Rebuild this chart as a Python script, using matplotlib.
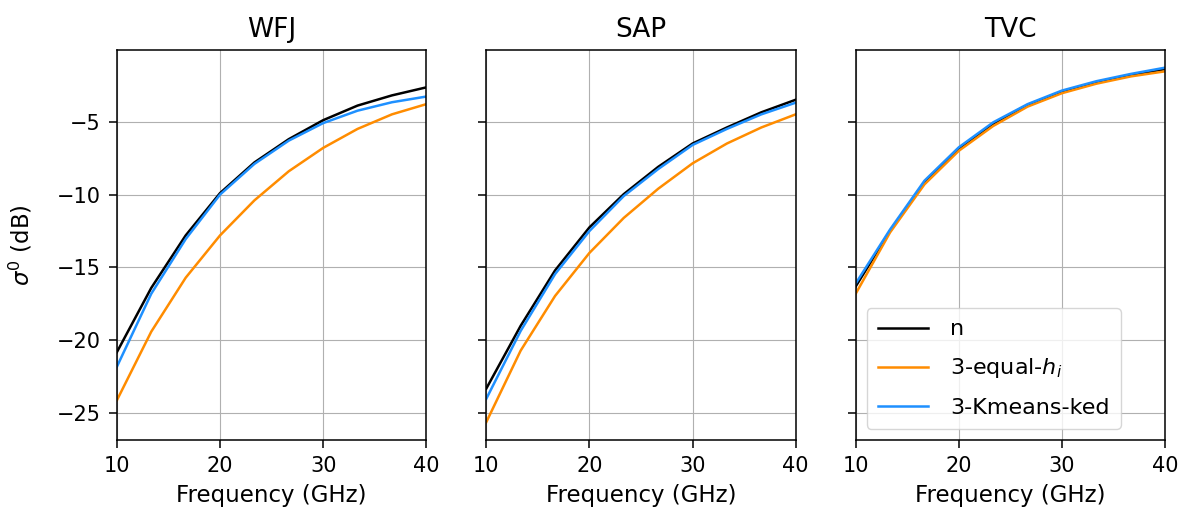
import matplotlib
matplotlib.use("Agg")
import matplotlib.pyplot as plt
import numpy as np

freq = np.array([10, 13.33, 16.67, 20, 23.33, 26.67, 30, 33.33, 36.67, 40])
sites = ["WFJ", "SAP", "TVC"]

# sigma0 (dB) per site
wfj_n = [-20.8, -16.4, -12.8, -9.9, -7.8, -6.2, -4.9, -3.9, -3.2, -2.65]
wfj_eq = [-24.1, -19.4, -15.7, -12.8, -10.4, -8.4, -6.8, -5.5, -4.5, -3.8]
wfj_km = [-21.8, -16.8, -13.05, -10.0, -7.9, -6.3, -5.1, -4.25, -3.67, -3.28]

sap_n = [-23.3, -19.0, -15.2, -12.25, -9.97, -8.1, -6.5, -5.4, -4.36, -3.5]
sap_eq = [-25.6, -20.7, -16.95, -14.0, -11.6, -9.6, -7.86, -6.5, -5.4, -4.5]
sap_km = [-24.0, -19.35, -15.45, -12.5, -10.1, -8.25, -6.6, -5.5, -4.5, -3.7]

tvc_n = [-16.3, -12.5, -9.15, -6.85, -5.15, -3.85, -2.95, -2.3, -1.8, -1.4]
tvc_eq = [-16.8, -12.6, -9.3, -7.0, -5.3, -3.97, -3.05, -2.4, -1.9, -1.55]
tvc_km = [-16.1, -12.4, -9.05, -6.76, -5.05, -3.8, -2.87, -2.23, -1.73, -1.3]

data = {
    "WFJ": (wfj_n, wfj_eq, wfj_km),
    "SAP": (sap_n, sap_eq, sap_km),
    "TVC": (tvc_n, tvc_eq, tvc_km),
}
labels = ["n", r"3-equal-$h_i$", "3-Kmeans-ked"]
colors = ["black", "darkorange", "dodgerblue"]

for a in ("xtick", "ytick"):
    plt.rcParams[a + ".labelsize"] = 15
    plt.rcParams[a + ".major.size"] = 5.5
    plt.rcParams[a + ".major.pad"] = 6
    plt.rcParams[a + ".major.width"] = 1.1
plt.rcParams["axes.linewidth"] = 1.1

fig, axes = plt.subplots(1, 3, figsize=(11.81, 5.15), dpi=100, sharey=True)
fig.subplots_adjust(left=0.099, right=0.9865, top=0.903, bottom=0.146, wspace=0.194)

for ax, site in zip(axes, sites):
    for vals, lab, c in zip(data[site], labels, colors):
        ax.plot(freq, vals, color=c, lw=1.8, label=lab)
    ax.set_title(site, fontsize=19, pad=9)
    ax.set_xlim(10, 40)
    ax.set_xticks([10, 20, 30, 40])
    ax.grid(True)
    ax.set_xlabel("Frequency (GHz)", fontsize=16.5, labelpad=6)

axes[0].set_ylabel(r"$\sigma^0$ (dB)", fontsize=16.5, labelpad=16)
axes[2].legend(loc="lower left", fontsize=16, handlelength=2.25,
               labelspacing=0.77, borderpad=0.5, handletextpad=1.0)

plt.savefig("out.png", dpi=100)
